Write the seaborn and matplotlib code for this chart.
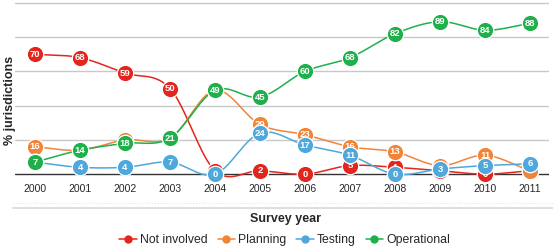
import numpy as np
import pandas as pd
import seaborn as sns
import matplotlib
matplotlib.use("Agg")
import matplotlib.pyplot as plt
from matplotlib.lines import Line2D

years = [2000, 2001, 2002, 2003, 2004, 2005, 2006, 2007, 2008, 2009, 2010, 2011]
not_involved = [70, 68, 59, 50, 2, 2, 0, 5, 4, 2, 0, 2]
planning = [16, 14, 20, 21, 49, 29, 23, 16, 13, 5, 11, 2]
testing = [7, 4, 4, 7, 0, 24, 17, 11, 0, 3, 5, 6]
operational = [7, 14, 18, 21, 49, 45, 60, 68, 82, 89, 84, 88]
series_names = ["Not involved", "Planning", "Testing", "Operational"]
colors = ["#e2261e", "#f0853a", "#4ea8dc", "#1fb04b"]

sns.set_style("white")
plt.rcParams['font.family'] = ['Liberation Sans', 'DejaVu Sans']

fig = plt.figure(figsize=(5.53, 2.48), dpi=100)
ax = fig.add_axes([15/553, 1 - 181/248, (549-15)/553, (181-2)/248])


def catmull(x, y, n=30):
    x = np.asarray(x, float); y = np.asarray(y, float)
    xp = np.concatenate([[2*x[0]-x[1]], x, [2*x[-1]-x[-2]]])
    yp = np.concatenate([[2*y[0]-y[1]], y, [2*y[-1]-y[-2]]])
    xs, ys = [], []
    for i in range(1, len(xp)-2):
        t = np.linspace(0, 1, n, endpoint=False)
        for arr, out in ((xp, xs), (yp, ys)):
            p0, p1, p2, p3 = arr[i-1], arr[i], arr[i+1], arr[i+2]
            out.append(0.5*((2*p1) + (-p0+p2)*t + (2*p0-5*p1+4*p2-p3)*t**2 + (-p0+3*p1-3*p2+p3)*t**3))
    xs.append([x[-1]]); ys.append([y[-1]])
    return np.concatenate(xs), np.concatenate(ys)

# grid
for g in [20, 40, 60, 80, 100]:
    ax.axhline(g, color="#c8c8c8", lw=1.0, zorder=0)
ax.axhline(0, color="#333333", lw=1.0, zorder=1)

data = [not_involved, planning, testing, operational]
for k, (name, vals, c) in enumerate(zip(series_names, data, colors)):
    sx, sy = catmull(years, vals)
    sns.lineplot(x=sx, y=sy, ax=ax, color=c, lw=1.1, sort=False, estimator=None, zorder=2+k*2)
    df = pd.DataFrame({"year": years, "v": vals})
    sns.scatterplot(data=df, x="year", y="v", ax=ax, color=c, s=140, edgecolor="white",
                    linewidth=0.9, zorder=3+k*2, legend=False)
    for xv, yv in zip(years, vals):
        ax.text(xv, yv, str(yv), ha="center", va="center", color="white", fontsize=6.8,
                fontweight="bold", zorder=3+k*2)

ax.set_xlim(2000 - 20/45, 2011 + 19/45)
ax.set_ylim(-4, 100.5)
ax.set_xticks(years)
ax.set_xticklabels([str(y) for y in years], fontsize=7.5)
ax.tick_params(axis="x", length=0, pad=2)
ax.set_yticks([])
for s in ax.spines.values():
    s.set_visible(False)
ax.set_xlabel("")
ax.set_ylabel("")

fig.text(10/553, 1 - 100/248, "% jurisdictions", rotation=90, ha="center", va="center",
         fontsize=9, fontweight="bold")
fig.text(285/553, 1 - 219/248, "Survey year", ha="center", va="center", fontsize=9, fontweight="bold")

fig.add_artist(Line2D([13/553, 1], [1 - 203/248]*2, color="#e6e6e6", lw=0.8, ls=":"))
fig.add_artist(Line2D([13/553, 1], [1 - 208/248]*2, color="#d8d8d8", lw=1.2))

handles = [Line2D([0], [0], color=c, lw=1.1, marker="o", markersize=5) for c in colors]
fig.legend(handles, series_names, loc="center", bbox_to_anchor=(285/553, 1 - 240/248), ncol=4,
           frameon=False, fontsize=8.8, handlelength=1.4, handletextpad=0.3, columnspacing=0.8)

fig.savefig("out.png", dpi=100)
